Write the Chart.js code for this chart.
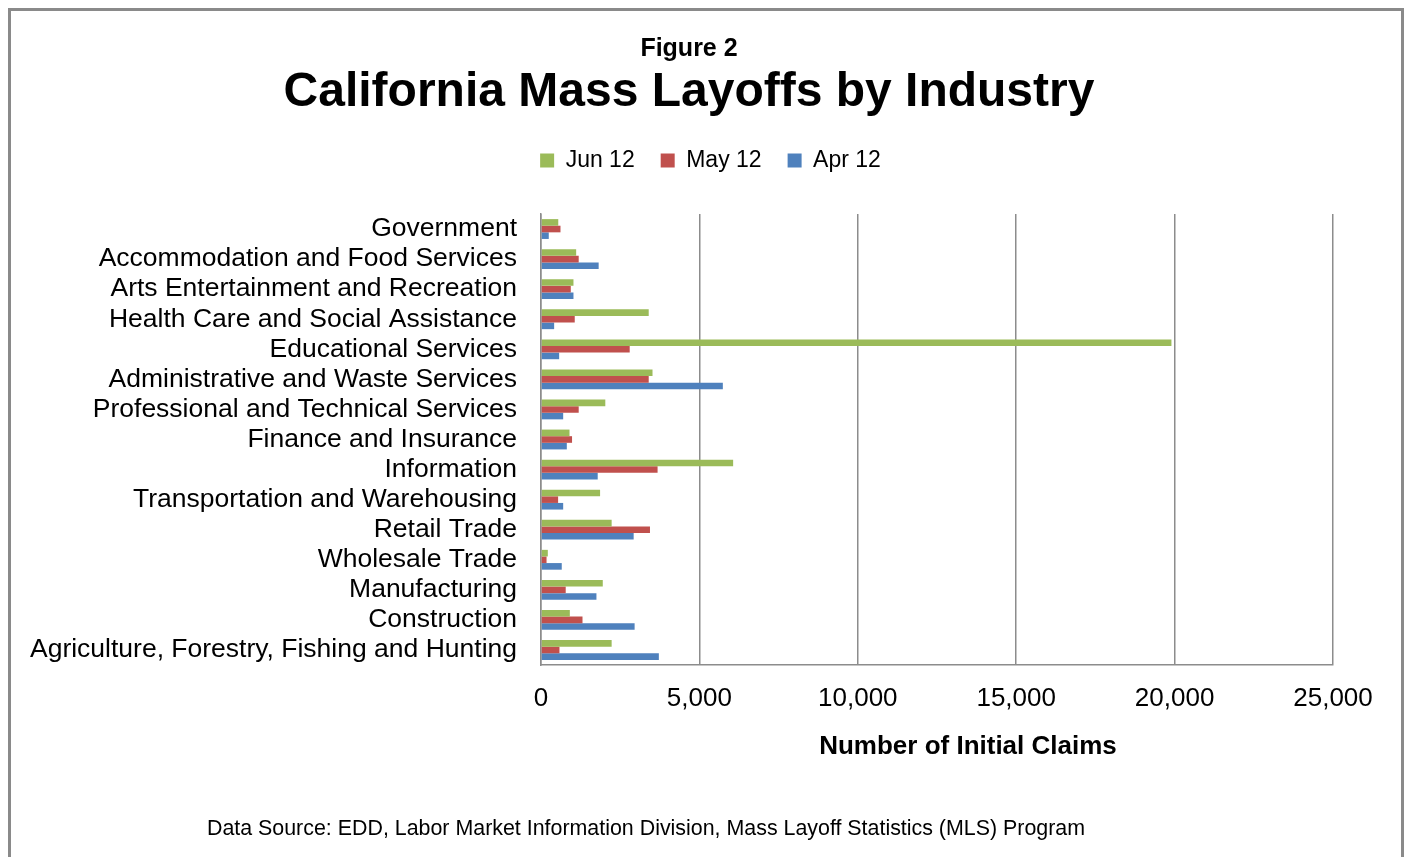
<!DOCTYPE html>
<html>
<head>
<meta charset="utf-8">
<script src="https://cdn.jsdelivr.net/npm/chart.js@4/dist/chart.umd.min.js"></script>
<style>
    html, body { margin: 0; padding: 0; background: #ffffff; overflow: hidden; }
    #wrap { position: relative; width: 1406px; height: 857px; }
    #frame { position: absolute; left: 8px; top: 8px; width: 1390px; height: 900px; border: 3px solid #8a8a8a; pointer-events: none; }
    .txt { position: absolute; text-align: center; color: #000; font-family: "Liberation Sans", Arial, sans-serif; white-space: nowrap; }
    #figLabel { left: 489px; width: 400px; top: 32px; line-height: 30px; font-size: 25px; font-weight: bold; }
    #mainTitle { left: 189px; width: 1000px; top: 62px; line-height: 56px; font-size: 48px; font-weight: bold; }
    #axisTitle { left: 768px; width: 400px; top: 730px; line-height: 30px; font-size: 26px; font-weight: bold; }
    #source { left: 146px; width: 1000px; top: 816px; line-height: 24px; font-size: 21.4px; }
</style>
</head>
<body>
<div id="wrap">
    <canvas id="layoffChart" width="1406" height="857"></canvas>
    <div id="frame"></div>
    <div class="txt" id="figLabel">Figure 2</div>
    <div class="txt" id="mainTitle">California Mass Layoffs by Industry</div>
    <div class="txt" id="axisTitle">Number of Initial Claims</div>
    <div class="txt" id="source">Data Source: EDD, Labor Market Information Division, Mass Layoff Statistics (MLS) Program</div>
</div>
<script>
const industries = [
    'Government',
    'Accommodation and Food Services',
    'Arts Entertainment and Recreation',
    'Health Care and Social Assistance',
    'Educational Services',
    'Administrative and Waste Services',
    'Professional and Technical Services',
    'Finance and Insurance',
    'Information',
    'Transportation and Warehousing',
    'Retail Trade',
    'Wholesale Trade',
    'Manufacturing',
    'Construction',
    'Agriculture, Forestry, Fishing and Hunting',
];

const jun12 = [545, 1110, 1025, 3400, 19900, 3520, 2030, 900, 6065, 1865, 2230, 215, 1950, 910, 2230];
const may12 = [615, 1190, 940, 1065, 2800, 3400, 1190, 980, 3680, 540, 3440, 175, 780, 1310, 583];
const apr12 = [245, 1820, 1025, 415, 573, 5740, 700, 815, 1790, 700, 2925, 655, 1750, 2955, 3720];

const xTicks = [0, 5000, 10000, 15000, 20000, 25000];

const fontFamily = '"Liberation Sans", Arial, sans-serif';

// push the plot down below the legend, and move the legend a bit right
const legendTweak = {
    id: 'legendTweak',
    beforeInit(chart) {
        const fit = chart.legend.fit;
        chart.legend.fit = function () {
            fit.bind(chart.legend)();
            this.height += 32;
        };
    },
    afterLayout(chart) {
        chart.legend.left += 44;
        chart.legend.right += 44;
    },
};

const ctx = document.getElementById('layoffChart').getContext('2d');
const layoffChart = new Chart(ctx, {
    type: 'bar',
    data: {
        labels: industries,
        datasets: [
            {
                label: 'Jun 12',
                data: jun12,
                backgroundColor: '#9bbb59',
            },
            {
                label: 'May 12',
                data: may12,
                backgroundColor: '#c0504d',
            },
            {
                label: 'Apr 12',
                data: apr12,
                backgroundColor: '#4f81bd',
            },
        ],
    },
    options: {
        indexAxis: 'y',
        responsive: false,
        animation: false,
        layout: {
            padding: { top: 123, right: 73, bottom: 0, left: 0 },
        },
        datasets: {
            bar: {
                categoryPercentage: 0.66,
                barPercentage: 1.0,
            },
        },
        plugins: {
            legend: {
                position: 'top',
                labels: {
                    color: '#000',
                    boxWidth: 14,
                    boxHeight: 14,
                    padding: 26,
                    font: { family: fontFamily, size: 23 },
                },
            },
            tooltip: { enabled: false },
        },
        scales: {
            x: {
                min: 0,
                max: 25000,
                afterBuildTicks: (scale) => {
                    scale.ticks = xTicks.map(v => ({ value: v }));
                },
                afterFit: (scale) => {
                    scale.height = 192;
                },
                grid: {
                    color: '#8c8c8c',
                    lineWidth: 1.5,
                    drawTicks: false,
                },
                border: { display: true, color: '#8c8c8c', width: 1.5 },
                ticks: {
                    color: '#000',
                    padding: 18,
                    font: { family: fontFamily, size: 26 },
                    callback: (value) => value.toLocaleString('en-US'),
                },
            },
            y: {
                afterFit: (scale) => {
                    scale.width = 541;
                },
                grid: { display: false, drawTicks: false },
                border: { display: true, color: '#8c8c8c', width: 1.5 },
                ticks: {
                    color: '#000',
                    padding: 24,
                    autoSkip: false,
                    font: { family: fontFamily, size: 26.5 },
                },
            },
        },
    },
    plugins: [legendTweak],
});
</script>
</body>
</html>
